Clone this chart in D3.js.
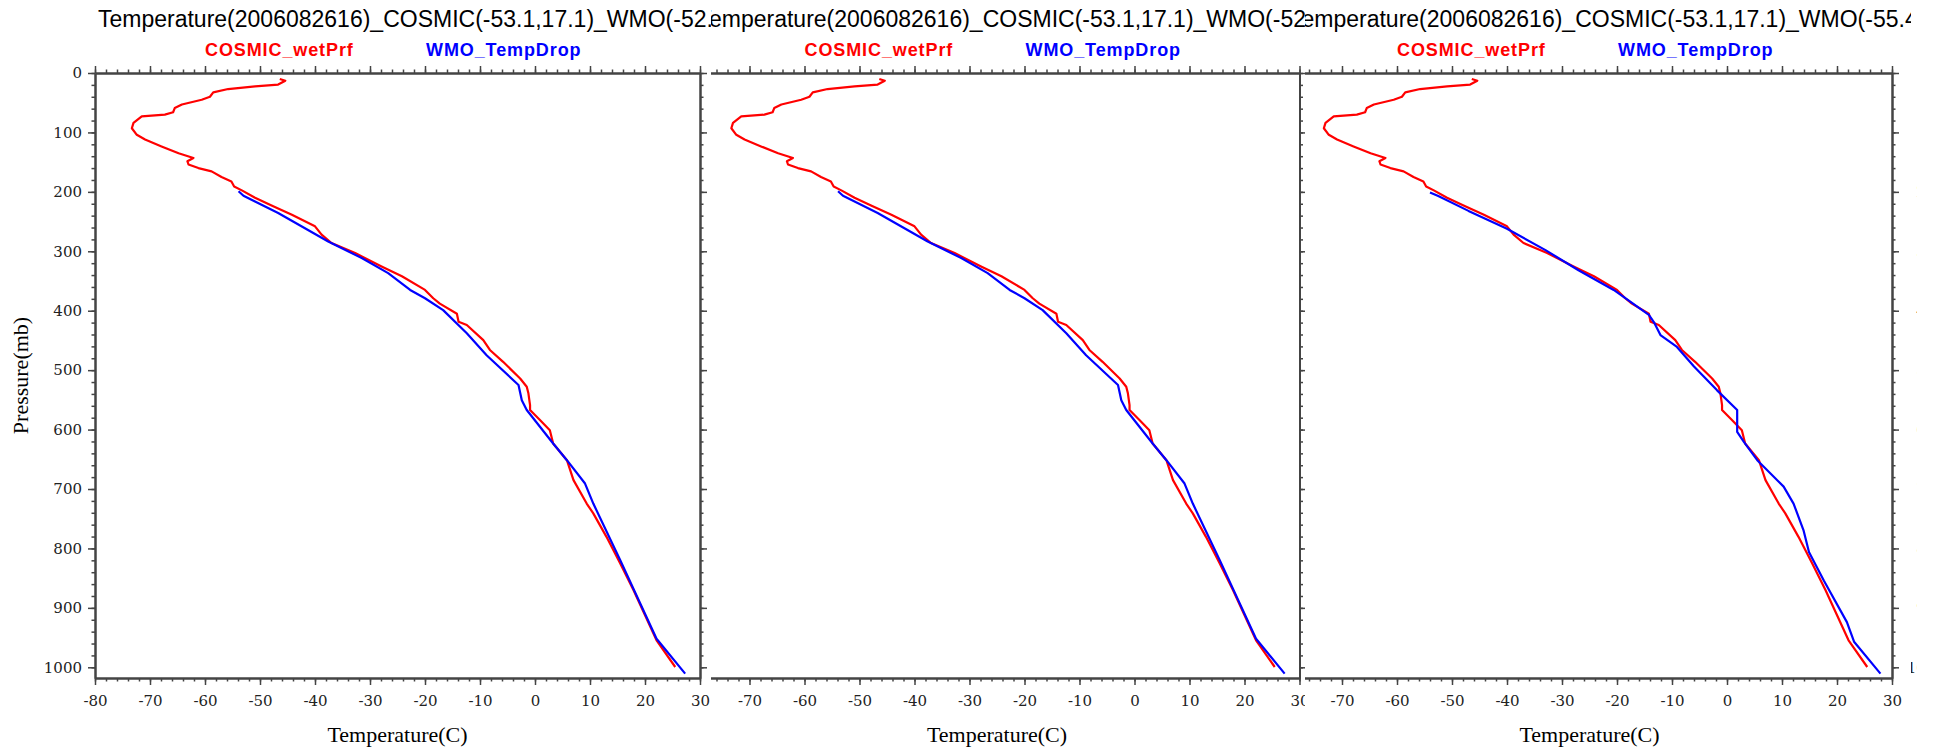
<!DOCTYPE html>
<html>
<head>
<meta charset="utf-8">
<script src="https://cdn.jsdelivr.net/npm/d3@7"></script>
<style>
  body { margin: 0; background: #fff; }
  svg { display: block; }
</style>
</head>
<body>
<div id="container"></div>
<script>
/**
 * DATA
 * */
// COSMIC wet profile (same in every panel)
const cosmicPres = [10, 13, 19.5, 22.5, 27, 32.5, 40, 45, 53, 59, 66, 70, 73, 84, 93, 104, 112, 123.5, 135, 143, 148.5, 154, 160, 165.5, 175, 182.5, 191, 197.5, 210, 223, 238.5, 258, 272, 286, 303, 325.5, 342, 365, 379, 388, 405, 418.5, 424, 449.5, 466, 486, 514, 528, 539, 559, 567, 584, 601, 623.5, 651.5, 685, 724.5, 741, 780.5, 825.5, 870, 954.5, 999.5];
const cosmicTemp = [-46.4, -45.4, -46.7, -50.9, -55.8, -58.5, -59.1, -60.6, -64.2, -65.5, -65.8, -67.3, -71.5, -73, -73.3, -72.4, -70.9, -67.9, -64.8, -62.1, -63.2, -63, -61.2, -58.8, -57, -55.2, -54.7, -53.3, -50.9, -47.9, -44.2, -40, -38.8, -37, -32.7, -27.9, -24.2, -20, -18.5, -17.3, -14.2, -13.9, -12.4, -9.4, -8.2, -5.8, -2.7, -1.5, -1.2, -0.9, -0.9, 0.9, 2.7, 3.3, 5.8, 7, 9.4, 10.6, 13, 15.5, 17.9, 22.1, 25.5];

// WMO drop, panels 1 and 2
const wmoPresA = [199, 206.5, 235.7, 283.4, 311.4, 336.7, 365, 379, 399, 438, 475, 525, 550.5, 567, 623.5, 651.5, 690.8, 724.5, 820, 952, 1010.7];
const wmoTempA = [-53.9, -53, -46.7, -37.6, -31.5, -26.7, -22.7, -20, -16.7, -12.4, -8.8, -3, -2.4, -1.5, 3.3, 5.8, 9.1, 10.6, 15.5, 22.1, 27.3];

// WMO drop, panel 3
const wmoPresB = [201, 207, 232, 262, 298, 332, 365, 407, 419, 441, 461, 494, 534, 567, 604, 621, 651.5, 696, 724.5, 769, 806, 854, 924, 957, 1010.7];
const wmoTempB = [-54, -52.5, -47, -40, -33, -27, -20.6, -14.2, -13.3, -12.1, -9.1, -6, -1.8, 1.85, 1.85, 3.1, 5.5, 10.3, 12.1, 13.9, 14.9, 17.6, 21.8, 23.1, 27.9];

const xTicks = [-80, -70, -60, -50, -40, -30, -20, -10, 0, 10, 20, 30];
const yTicks = [0, 100, 200, 300, 400, 500, 600, 700, 800, 900, 1000];
const legendNames = ["COSMIC_wetPrf", "WMO_TempDrop"];
const legendColors = ["#ff0000", "#0000ff"];
const titles = [
  "Temperature(2006082616)_COSMIC(-53.1,17.1)_WMO(-52.3",
  "Temperature(2006082616)_COSMIC(-53.1,17.1)_WMO(-52.3",
  "Temperature(2006082616)_COSMIC(-53.1,17.1)_WMO(-55.4,",
  "Temperature(2006082616)_COSMIC(-53.1,17.1)_WMO("
];

/**
 * LAYOUT
 * */
const width = 1940, height = 750;
const margin = { top: 73, left: 95 };
const plotW = 605, plotH = 605;
// each strip of the composite: where the panel sits and which part shows
const panels = [
  { off: 0,      from: 0,    to: 711,  wmo: 0 },
  { off: 599.5,  from: 711,  to: 1305, wmo: 0 },
  { off: 1192,   from: 1305, to: 1911, wmo: 1 },
  { off: 1863,   from: 1911, to: 1917, wmo: 1 }
];
const wmoSets = [
  { t: wmoTempA, p: wmoPresA },
  { t: wmoTempB, p: wmoPresB }
];

const x = d3.scaleLinear().domain([-80, 30]).range([margin.left, margin.left + plotW]);
const y = d3.scaleLinear().domain([0, 1018]).range([margin.top, margin.top + plotH]);

const line = d3.line().x(d => x(d[0])).y(d => y(d[1]));

const svg = d3.select("#container")
  .append("svg")
  .attr("width", width)
  .attr("height", height);

const defs = svg.append("defs");

const axisColor = "#444";
const tickFont = "'DejaVu Serif', serif";

function styleAxis(g) {
  g.selectAll("path").attr("stroke", axisColor).attr("stroke-width", 2);
  g.selectAll("line").attr("stroke", axisColor).attr("stroke-width", 1.5);
  g.selectAll("text")
    .attr("fill", "#222")
    .style("font-family", tickFont)
    .style("font-size", "15px");
}

panels.forEach((pn, i) => {
  defs.append("clipPath").attr("id", "strip" + i)
    .append("rect")
    .attr("x", pn.from - pn.off)
    .attr("y", 0)
    .attr("width", pn.to - pn.from)
    .attr("height", height);

  const g = svg.append("g")
    .attr("transform", `translate(${pn.off},0)`)
    .attr("clip-path", `url(#strip${i})`);

  // title
  g.append("text")
    .text(titles[i])
    .attr("x", 98)
    .attr("y", 27)
    .style("font-family", "'Liberation Sans', Arial, sans-serif")
    .style("font-size", "23px")
    .attr("fill", "#000");

  // legend
  g.selectAll(".legend")
    .data(legendNames)
    .join("text")
    .attr("class", "legend")
    .attr("x", (_, k) => k === 0 ? 205 : 426)
    .attr("y", 56)
    .text(d => d)
    .attr("fill", (_, k) => legendColors[k])
    .style("font-family", "'Liberation Sans', Arial, sans-serif")
    .style("font-weight", "bold")
    .style("font-size", "18px")
    .style("letter-spacing", "0.9px");

  // minor ticks
  const minorX = d3.range(-80, 31, 2);
  const minorY = d3.range(0, 1001, 20);
  g.append("g").attr("transform", `translate(0,${margin.top + plotH})`)
    .call(d3.axisBottom(x).tickValues(minorX).tickSize(3.5).tickSizeOuter(0).tickFormat(""))
    .call(styleAxis);
  g.append("g").attr("transform", `translate(0,${margin.top})`)
    .call(d3.axisTop(x).tickValues(minorX).tickSize(3.5).tickSizeOuter(0).tickFormat(""))
    .call(styleAxis);
  g.append("g").attr("transform", `translate(${margin.left},0)`)
    .call(d3.axisLeft(y).tickValues(minorY).tickSize(3.5).tickSizeOuter(0).tickFormat(""))
    .call(styleAxis);
  g.append("g").attr("transform", `translate(${margin.left + plotW},0)`)
    .call(d3.axisRight(y).tickValues(minorY).tickSize(3.5).tickSizeOuter(0).tickFormat(""))
    .call(styleAxis);

  // major ticks + labels
  g.append("g").attr("transform", `translate(0,${margin.top + plotH})`)
    .call(d3.axisBottom(x).tickValues(xTicks).tickSize(7).tickSizeOuter(0).tickPadding(10).tickFormat(d => String(d)))
    .call(styleAxis);
  g.append("g").attr("transform", `translate(0,${margin.top})`)
    .call(d3.axisTop(x).tickValues(xTicks).tickSize(7).tickSizeOuter(0).tickFormat(""))
    .call(styleAxis);
  g.append("g").attr("transform", `translate(${margin.left},0)`)
    .call(d3.axisLeft(y).tickValues(yTicks).tickSize(7).tickSizeOuter(0).tickPadding(6).tickFormat(d => String(d)))
    .call(styleAxis);
  g.append("g").attr("transform", `translate(${margin.left + plotW},0)`)
    .call(d3.axisRight(y).tickValues(yTicks).tickSize(7).tickSizeOuter(0).tickFormat(""))
    .call(styleAxis);

  // axis titles
  g.append("text")
    .text("Temperature(C)")
    .attr("x", margin.left + plotW / 2)
    .attr("y", 742)
    .attr("text-anchor", "middle")
    .style("font-family", "'Liberation Serif', 'Times New Roman', serif")
    .style("font-size", "22px");
  g.append("text")
    .text("Pressure(mb)")
    .attr("transform", `translate(28,${margin.top + plotH / 2}) rotate(-90)`)
    .attr("text-anchor", "middle")
    .style("font-family", "'Liberation Serif', 'Times New Roman', serif")
    .style("font-size", "22px");

  // profiles
  const plot = g.append("g");
  plot.append("path")
    .datum(cosmicTemp.map((t, k) => [t, cosmicPres[k]]))
    .attr("d", line)
    .attr("fill", "none")
    .attr("stroke", legendColors[0])
    .attr("stroke-width", 2.2)
    .attr("stroke-linejoin", "round");
  const w = wmoSets[pn.wmo];
  plot.append("path")
    .datum(w.t.map((t, k) => [t, w.p[k]]))
    .attr("d", line)
    .attr("fill", "none")
    .attr("stroke", legendColors[1])
    .attr("stroke-width", 2.2)
    .attr("stroke-linejoin", "round");

  // drop texts that fall wholly outside this panel's visible strip
  g.selectAll("text").each(function () {
    const r = this.getBoundingClientRect();
    if (r.right <= pn.from || r.left >= pn.to) this.remove();
  });
});
</script>
</body>
</html>
